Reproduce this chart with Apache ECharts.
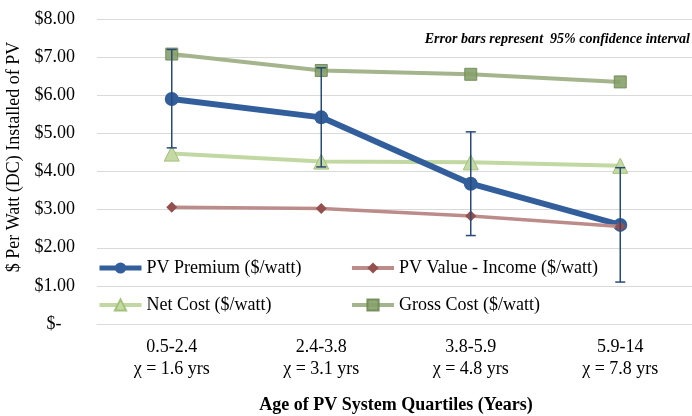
<!DOCTYPE html>
<html>
<head>
<meta charset="utf-8">
<script src="https://cdn.jsdelivr.net/npm/echarts@6/dist/echarts.min.js"></script>
<style>html,body{margin:0;padding:0;background:#fff}#c{width:692px;height:416px}</style>
</head>
<body>
<div id="c"></div>
<script>
const categories = ['0.5-2.4\nχ = 1.6 yrs', '2.4-3.8\nχ = 3.1 yrs', '3.8-5.9\nχ = 4.8 yrs', '5.9-14\nχ = 7.8 yrs'];
const pvPremium = [5.90, 5.42, 3.68, 2.60];
const pvPremiumLow = [4.62, 4.12, 2.32, 1.10];
const pvPremiumHigh = [7.20, 6.72, 5.04, 4.10];
const pvValue = [3.06, 3.03, 2.83, 2.56];
const netCost = [4.47, 4.26, 4.24, 4.15];
const grossCost = [7.08, 6.65, 6.55, 6.35];
const yTicks = [0, 1, 2, 3, 4, 5, 6, 7, 8];

const FONT = '"Liberation Serif", "Times New Roman", serif';
const errData = categories.map((c, i) => [i, pvPremiumLow[i], pvPremiumHigh[i]]);

const legendText = { fontFamily: FONT, fontSize: 18, color: '#000' };
const chart = echarts.init(document.getElementById('c'));
chart.setOption({
  animation: false,
  backgroundColor: '#fff',
  grid: { left: 97, top: 19, width: 598, height: 305, outerBoundsMode: 'none', containLabel: false },
  graphic: [{
    type: 'text', right: 2, top: 32,
    style: { text: 'Error bars represent  95% confidence interval', font: 'italic bold 14px ' + FONT, fill: '#000' }
  }, {
    type: 'text', x: 14, y: 157, rotation: Math.PI / 2,
    style: { text: '$ Per Watt (DC) Installed of PV', font: '18px ' + FONT, fill: '#000', align: 'center', verticalAlign: 'middle' }
  }],
  legend: [{
    orient: 'vertical', left: 97, top: 259, padding: 0, itemGap: 19, itemWidth: 42, itemHeight: 14,
    textStyle: legendText,
    data: [
      { name: 'PV Premium ($/watt)', lineStyle: { width: 5 } },
      { name: 'Net Cost ($/watt)', lineStyle: { width: 4 } }
    ]
  }, {
    orient: 'vertical', left: 350, top: 259, padding: 0, itemGap: 19, itemWidth: 42, itemHeight: 14,
    textStyle: legendText,
    data: [
      { name: 'PV Value - Income ($/watt)', lineStyle: { width: 4 } },
      { name: 'Gross Cost ($/watt)', lineStyle: { width: 4 } }
    ]
  }],
  xAxis: {
    type: 'category', data: categories,
    name: 'Age of PV System Quartiles (Years)', nameLocation: 'middle', nameGap: 72,
    nameTextStyle: { fontFamily: FONT, fontSize: 18, fontWeight: 'bold', color: '#000' },
    axisLine: { show: true, lineStyle: { color: '#d9d9d9' } },
    axisTick: { show: false },
    axisLabel: { fontFamily: FONT, fontSize: 18, color: '#000', lineHeight: 22, margin: 12 }
  },
  yAxis: {
    type: 'value', min: yTicks[0], max: yTicks[yTicks.length - 1], interval: 1,
    axisLine: { show: false }, axisTick: { show: false },
    splitLine: { lineStyle: { color: '#d9d9d9', width: 1 } },
    axisLabel: {
      fontFamily: FONT, fontSize: 18, color: '#000', margin: 22,
      formatter: v => v === 0 ? '$-   ' : '$' + v.toFixed(2)
    }
  },
  series: [{
    name: 'Gross Cost ($/watt)', type: 'line', data: grossCost, z: 2,
    symbol: 'rect', symbolSize: 12,
    lineStyle: { color: '#a4b48c', width: 4 },
    itemStyle: { color: '#86a06a', borderColor: '#6f8a52', borderWidth: 1, opacity: 0.9 }
  }, {
    name: 'Net Cost ($/watt)', type: 'line', data: netCost, z: 2,
    symbol: 'triangle', symbolSize: 15,
    lineStyle: { color: '#c2d8a2', width: 4 },
    itemStyle: { color: '#c4daa2', borderColor: '#a3c27a', borderWidth: 1 }
  }, {
    name: 'PV Premium ($/watt)', type: 'line', data: pvPremium, z: 3,
    symbol: 'circle', symbolSize: 14,
    lineStyle: { color: '#325f9c', width: 6 },
    itemStyle: { color: '#325f9c' }
  }, {
    name: 'PV Value - Income ($/watt)', type: 'line', data: pvValue, z: 4,
    symbol: 'diamond', symbolSize: 11,
    lineStyle: { color: '#bc8c8a', width: 3.5 },
    itemStyle: { color: '#94504e' }
  }, {
    name: 'err', type: 'custom', data: errData, z: 5,
    renderItem: (params, api) => {
      const x = api.value(0);
      const lo = api.coord([x, api.value(1)]);
      const hi = api.coord([x, api.value(2)]);
      const w = 5;
      const st = { stroke: '#284a78', lineWidth: 1.5 };
      return { type: 'group', children: [
        { type: 'line', shape: { x1: lo[0], y1: lo[1], x2: hi[0], y2: hi[1] }, style: st },
        { type: 'line', shape: { x1: lo[0] - w, y1: lo[1], x2: lo[0] + w, y2: lo[1] }, style: st },
        { type: 'line', shape: { x1: hi[0] - w, y1: hi[1], x2: hi[0] + w, y2: hi[1] }, style: st }
      ]};
    }
  }]
});
</script>
</body>
</html>
